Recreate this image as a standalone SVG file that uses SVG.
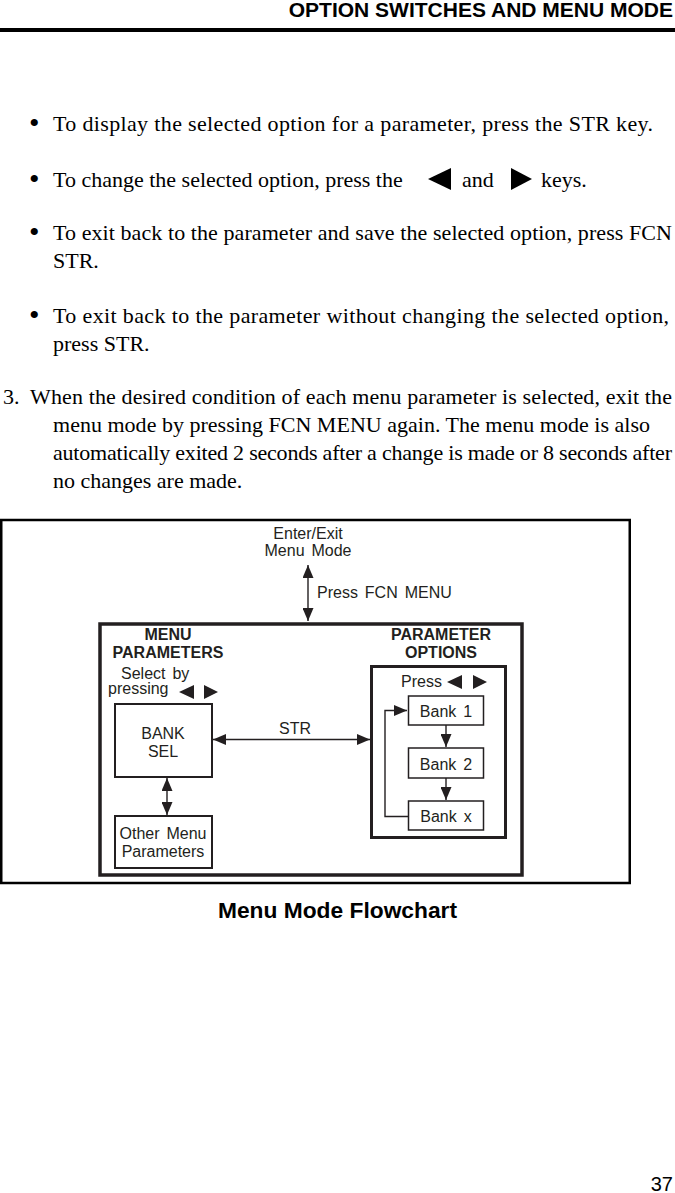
<svg xmlns="http://www.w3.org/2000/svg" width="675" height="1193" viewBox="0 0 675 1193">
<defs>
<style>
.body{font-family:"Liberation Serif","Times New Roman",serif;font-size:22px;fill:#000}
.bul{font-family:"Liberation Serif","Times New Roman",serif;font-size:30px;fill:#000}
.hd{font-family:"Liberation Sans",Arial,sans-serif;font-weight:bold;fill:#000}
.lb{font-family:"Liberation Sans",Arial,sans-serif;font-size:16px;fill:#231f20;word-spacing:2.5px}
.lbb{font-family:"Liberation Sans",Arial,sans-serif;font-size:16px;font-weight:bold;fill:#231f20;text-anchor:middle}
.box{fill:#fff;stroke:#231f20;stroke-width:2}
.tri{fill:#231f20}
.ln{fill:none;stroke:#231f20;stroke-width:1.4}
</style>
<marker id="ah" markerUnits="userSpaceOnUse" viewBox="0 0 13 11" refX="13" refY="5.5" markerWidth="13" markerHeight="11" orient="auto-start-reverse">
<path d="M0,0 L13,5.5 L0,11 Z" fill="#231f20"/>
</marker>
</defs>

<!-- Header -->
<text class="hd" x="673" y="17" font-size="21" text-anchor="end">OPTION SWITCHES AND MENU MODE</text>
<rect x="0" y="28" width="675" height="4" fill="#000"/>

<!-- Body text -->
<g id="body">
<text class="bul" x="29" y="133">•</text>
<text class="body" x="53" y="131" textLength="600" lengthAdjust="spacing">To display the selected option for a parameter, press the STR key.</text>
<text class="bul" x="29" y="189">•</text>
<text class="body" x="53" y="187">To change the selected option, press the</text>
<polygon points="428,179 451,168 451,190" fill="#000"/>
<text class="body" x="462" y="187">and</text>
<polygon points="511,168 532,179 511,190" fill="#000"/>
<text class="body" x="541" y="187">keys.</text>
<text class="bul" x="29" y="242">•</text>
<text class="body" x="53" y="240" textLength="619" lengthAdjust="spacing">To exit back to the parameter and save the selected option, press FCN</text>
<text class="body" x="53" y="268">STR.</text>
<text class="bul" x="29" y="325">•</text>
<text class="body" x="53" y="323" textLength="616" lengthAdjust="spacing">To exit back to the parameter without changing the selected option,</text>
<text class="body" x="53" y="351">press STR.</text>
<text class="body" x="3" y="404">3.</text>
<text class="body" x="30" y="404" textLength="642" lengthAdjust="spacing">When the desired condition of each menu parameter is selected, exit the</text>
<text class="body" x="53" y="432" textLength="597" lengthAdjust="spacing">menu mode by pressing FCN MENU again. The menu mode is also</text>
<text class="body" x="53" y="460" textLength="619" lengthAdjust="spacing">automatically exited 2 seconds after a change is made or 8 seconds after</text>
<text class="body" x="53" y="488">no changes are made.</text>
</g>

<!-- Diagram frames -->
<g id="frame">
<rect x="1.25" y="520" width="628.5" height="363" fill="none" stroke="#000" stroke-width="2.5"/>
</g>

<g id="menu-container">
<rect x="100" y="624" width="422" height="251" fill="none" stroke="#231f20" stroke-width="3.5"/>
<text class="lbb" x="168" y="640">MENU</text>
<text class="lbb" x="168" y="658">PARAMETERS</text>
<text class="lb" x="121" y="679">Select by</text>
<text class="lb" x="108" y="694">pressing</text>
<polygon class="tri" points="179,692 194,685 194,699"/>
<polygon class="tri" points="204,685 218,692 204,699"/>
</g>

<g id="param-options">
<text class="lbb" x="441" y="640">PARAMETER</text>
<text class="lbb" x="441" y="658">OPTIONS</text>
<rect x="371.5" y="666.5" width="134" height="171" fill="none" stroke="#231f20" stroke-width="3"/>
<text class="lb" x="401" y="687">Press</text>
<polygon class="tri" points="447,682 462,675 462,689"/>
<polygon class="tri" points="473,675 487,682 473,689"/>
</g>

<g id="enter-exit">
<text class="lb" x="308" y="539" text-anchor="middle">Enter/Exit</text>
<text class="lb" x="308" y="556" text-anchor="middle">Menu Mode</text>
</g>

<g id="bank-sel">
<rect class="box" x="115" y="704" width="97" height="73"/>
<text class="lb" x="163" y="739" text-anchor="middle">BANK</text>
<text class="lb" x="163" y="757" text-anchor="middle">SEL</text>
</g>

<g id="other-params">
<rect class="box" x="115" y="816" width="97" height="52"/>
<text class="lb" x="163" y="839" text-anchor="middle">Other Menu</text>
<text class="lb" x="163" y="857" text-anchor="middle">Parameters</text>
</g>

<g id="bank1">
<rect x="408.5" y="696" width="75" height="29" fill="#fff" stroke="#231f20" stroke-width="1.5"/>
<text class="lb" x="446" y="717" text-anchor="middle">Bank 1</text>
</g>
<g id="bank2">
<rect x="408.5" y="748" width="75" height="30" fill="#fff" stroke="#231f20" stroke-width="1.5"/>
<text class="lb" x="446" y="770" text-anchor="middle">Bank 2</text>
</g>
<g id="bankx">
<rect x="408.5" y="801" width="75" height="29" fill="#fff" stroke="#231f20" stroke-width="1.5"/>
<text class="lb" x="446" y="822" text-anchor="middle">Bank x</text>
</g>

<g id="connectors">
<line class="ln" x1="308" y1="565" x2="308" y2="621" stroke-width="2.2" marker-start="url(#ah)" marker-end="url(#ah)"/>
<text class="lb" x="317" y="598">Press FCN MENU</text>
<line class="ln" x1="213" y1="739.5" x2="370" y2="739.5" marker-start="url(#ah)" marker-end="url(#ah)"/>
<text class="lb" x="295" y="734" text-anchor="middle">STR</text>
<line class="ln" x1="167" y1="778" x2="167" y2="815" stroke-width="1.8" marker-start="url(#ah)" marker-end="url(#ah)"/>
<line class="ln" x1="446" y1="725" x2="446" y2="747" stroke-width="1.8" marker-end="url(#ah)"/>
<line class="ln" x1="446" y1="778" x2="446" y2="800" stroke-width="1.8" marker-end="url(#ah)"/>
<polyline class="ln" points="408,816.5 385,816.5 385,710.5 407,710.5" marker-end="url(#ah)"/>
</g>

<text class="hd" x="218" y="918" font-size="22.5" textLength="239" lengthAdjust="spacingAndGlyphs">Menu Mode Flowchart</text>
<text x="673" y="1191" font-family="Liberation Sans, Arial, sans-serif" font-size="20" text-anchor="end" fill="#000">37</text>
</svg>
